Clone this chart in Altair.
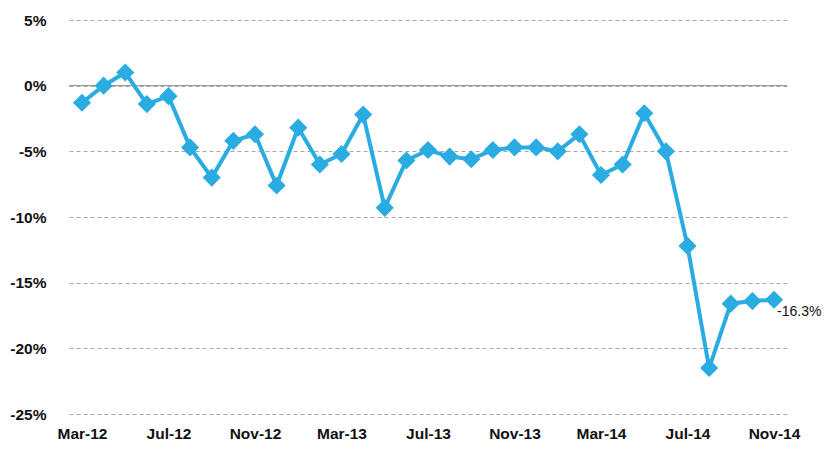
import altair as alt
import pandas as pd

months = ["Mar-12", "Apr-12", "May-12", "Jun-12", "Jul-12", "Aug-12", "Sep-12", "Oct-12",
          "Nov-12", "Dec-12", "Jan-13", "Feb-13", "Mar-13", "Apr-13", "May-13", "Jun-13",
          "Jul-13", "Aug-13", "Sep-13", "Oct-13", "Nov-13", "Dec-13", "Jan-14", "Feb-14",
          "Mar-14", "Apr-14", "May-14", "Jun-14", "Jul-14", "Aug-14", "Sep-14", "Oct-14",
          "Nov-14"]
values = [-1.3, 0.0, 1.0, -1.4, -0.8, -4.7, -7.0, -4.2,
          -3.7, -7.6, -3.2, -6.0, -5.2, -2.2, -9.3, -5.7,
          -4.9, -5.4, -5.6, -4.9, -4.7, -4.7, -5.0, -3.7,
          -6.8, -6.0, -2.1, -5.0, -12.2, -21.5, -16.6, -16.4,
          -16.3]
tick_labels = ["Mar-12", "Jul-12", "Nov-12", "Mar-13", "Jul-13", "Nov-13", "Mar-14", "Jul-14", "Nov-14"]
y_ticks = [-25, -20, -15, -10, -5, 0, 5]
last_label = "-16.3%"

df = pd.DataFrame({"month": months, "value": values})
df_last = pd.DataFrame({"month": [months[-1]], "value": [values[-1]], "label": [last_label]})
df_zero = pd.DataFrame({"zero": [0]})

FONT = "Liberation Sans"
BLUE = "#2AACE2"

x_enc = alt.X("month:N", sort=months, title=None,
              scale=alt.Scale(type="point", padding=0.6),
              axis=alt.Axis(values=tick_labels, labelAngle=0, ticks=False, tickSize=0,
                            domain=False, grid=False, labelPadding=12,
                            labelFont=FONT, labelFontSize=15.5, labelFontWeight="bold",
                            labelColor="#111111"))
y_scale = alt.Scale(domain=[-25, 5], nice=False, zero=False)
y_enc = alt.Y("value:Q", title=None, scale=y_scale,
              axis=alt.Axis(values=y_ticks, labelExpr="datum.value + '%'", ticks=False, tickSize=0,
                            domain=False, grid=True, gridColor="#a8a8a8", gridDash=[4, 3],
                            gridWidth=1, labelPadding=23, labelFont=FONT, labelFontSize=15.5,
                            labelFontWeight="bold", labelColor="#111111"))

zero_rule = alt.Chart(df_zero).mark_rule(color="#8a8a8a", strokeWidth=1).encode(
    y=alt.Y("zero:Q", scale=y_scale))

line = alt.Chart(df).mark_line(color=BLUE, strokeWidth=4).encode(x=x_enc, y=y_enc)
points = alt.Chart(df).mark_point(shape="diamond", filled=True, size=330, color=BLUE, opacity=1).encode(
    x=alt.X("month:N", sort=months), y=alt.Y("value:Q"))
label = alt.Chart(df_last).mark_text(align="left", baseline="alphabetic", dx=3, dy=16,
                                     font=FONT, fontSize=14, color="#111111").encode(
    x=alt.X("month:N", sort=months), y=alt.Y("value:Q"), text="label:N")

chart = alt.layer(zero_rule, line, points, label).properties(
    width=718, height=394,
    autosize=alt.AutoSizeParams(type="none"),
    padding={"left": 61, "top": 12, "right": 36, "bottom": 28},
).configure_view(stroke=None)

chart.save("out.html", embed_options={"renderer": "svg", "actions": False})
